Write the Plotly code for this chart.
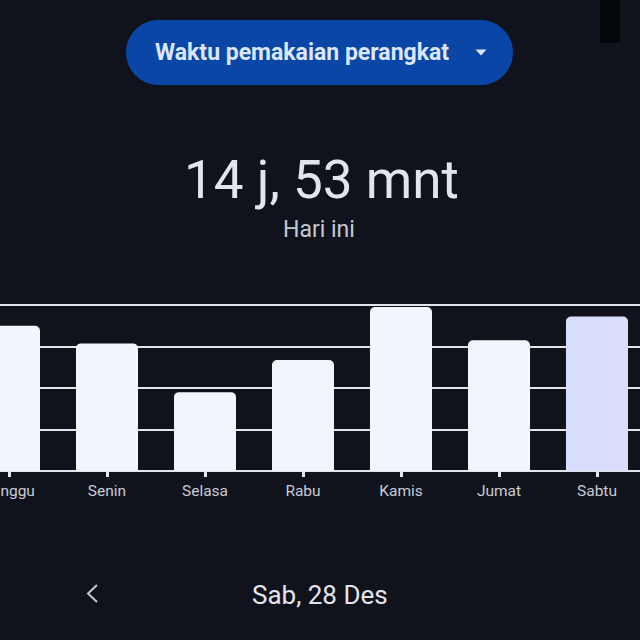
import math
import plotly.graph_objects as go

# ---- data ----
days = ["Minggu", "Senin", "Selasa", "Rabu", "Kamis", "Jumat", "Sabtu"]
hours = [14.0, 12.3, 7.6, 10.7, 15.8, 12.6, 14.88]
bar_colors = ["#f3f5fd", "#f3f5fd", "#f3f5fd", "#f3f5fd", "#f3f5fd", "#f3f5fd", "#d9dffa"]
y_ticks = [0, 4, 8, 12, 16]
headline = "14 j, 53 mnt"
subtitle = "Hari ini"
button_label = "Waktu pemakaian perangkat"
date_label = "Sab, 28 Des"

BG = "#10131c"
W = H = 640


def px(x, y):
    return x / W, 1 - y / H


def pill_path(x0, y0, x1, y1, n=24):
    r = (y1 - y0) / 2
    cy = (y0 + y1) / 2
    pts = []
    for i in range(n + 1):
        a = -math.pi / 2 + math.pi * i / n
        pts.append((x1 - r + r * math.cos(a), cy + r * math.sin(a)))
    for i in range(n + 1):
        a = math.pi / 2 + math.pi * i / n
        pts.append((x0 + r + r * math.cos(a), cy + r * math.sin(a)))
    s = ""
    for i, (x, y) in enumerate(pts):
        fx, fy = px(x, y)
        s += ("M" if i == 0 else "L") + f"{fx:.5f},{fy:.5f} "
    return s + "Z"


def poly_path(points, close=True):
    s = ""
    for i, (x, y) in enumerate(points):
        fx, fy = px(x, y)
        s += ("M" if i == 0 else "L") + f"{fx:.5f},{fy:.5f} "
    return s + ("Z" if close else "")


xs = list(range(len(days)))

fig = go.Figure(
    go.Bar(
        x=xs,
        y=hours,
        marker=dict(color=bar_colors, line=dict(width=0), cornerradius=5),
        width=0.633,
        hoverinfo="skip",
    )
)

# axis geometry (pixel layout of the screenshot)
y_base_px = 471
px_per_hour = 166 / 16
y_max = 16.15
y_top_px = y_base_px - y_max * px_per_hour
x_first_px, x_step_px = 9, 98

fig.update_layout(
    width=W,
    height=H,
    autosize=False,
    margin=dict(l=0, r=0, t=0, b=0, pad=0, autoexpand=False),
    paper_bgcolor=BG,
    plot_bgcolor=BG,
    showlegend=False,
    font=dict(family="Roboto", color="#c9cbd6"),
    xaxis=dict(
        range=[-x_first_px / x_step_px, (W - x_first_px) / x_step_px],
        tickvals=xs,
        ticktext=days,
        ticks="outside",
        ticklen=5,
        tickwidth=2.5,
        tickcolor="#e6e7ee",
        ticklabeloverflow="allow",
        automargin=False,
        tickfont=dict(family="Roboto", size=15.5, color="#c9cbd6"),
        showgrid=False,
        zeroline=False,
        showline=False,
        fixedrange=True,
    ),
    yaxis=dict(
        domain=[(H - y_base_px) / H, (H - y_top_px) / H],
        range=[0, y_max],
        tickvals=y_ticks,
        showticklabels=False,
        automargin=False,
        showgrid=True,
        gridcolor="#e4e5ec",
        gridwidth=1.5,
        zeroline=True,
        zerolinecolor="#e4e5ec",
        zerolinewidth=2,
        fixedrange=True,
    ),
)

shapes = []
x0f, y0f = px(600, 0)
x1f, y1f = px(620, 43)
shapes.append(dict(type="rect", xref="paper", yref="paper", x0=x0f, y0=y1f, x1=x1f, y1=y0f,
                   fillcolor="#050609", line=dict(width=0), layer="above"))
shapes.append(dict(type="path", xref="paper", yref="paper", path=pill_path(126, 20, 513, 85),
                   fillcolor="#0a46a6", line=dict(width=0)))
shapes.append(dict(type="path", xref="paper", yref="paper",
                   path=poly_path([(475.5, 49.5), (486.5, 49.5), (481, 55.5)]),
                   fillcolor="#dbe5ff", line=dict(width=0)))
shapes.append(dict(type="path", xref="paper", yref="paper",
                   path=poly_path([(97, 585), (88, 593.5), (97, 602)], close=False),
                   line=dict(color="#c7c9d3", width=2), fillcolor="rgba(0,0,0,0)"))
fig.update_layout(shapes=shapes)

ann = []
bx, by = px(302, 52)
ann.append(dict(text=f"<b>{button_label}</b>", x=bx, y=by, xref="paper", yref="paper",
                showarrow=False, font=dict(family="Roboto", size=23, color="#dce6ff"),
                xanchor="center", yanchor="middle"))
hx, hy = px(321, 180)
ann.append(dict(text=headline, x=hx, y=hy, xref="paper", yref="paper", showarrow=False,
                font=dict(family="Roboto", size=53, color="#e4e4ec"),
                xanchor="center", yanchor="middle"))
sx, sy = px(319, 229)
ann.append(dict(text=subtitle, x=sx, y=sy, xref="paper", yref="paper", showarrow=False,
                font=dict(family="Roboto", size=23, color="#c5c7d1"),
                xanchor="center", yanchor="middle"))
dx, dy = px(320, 595)
ann.append(dict(text=date_label, x=dx, y=dy, xref="paper", yref="paper", showarrow=False,
                font=dict(family="Roboto", size=26, color="#e4e4ec"),
                xanchor="center", yanchor="middle"))
fig.update_layout(annotations=ann)

fig.write_html("out.html", config={"displayModeBar": False},
               post_script="document.body.style.margin='0px';")
